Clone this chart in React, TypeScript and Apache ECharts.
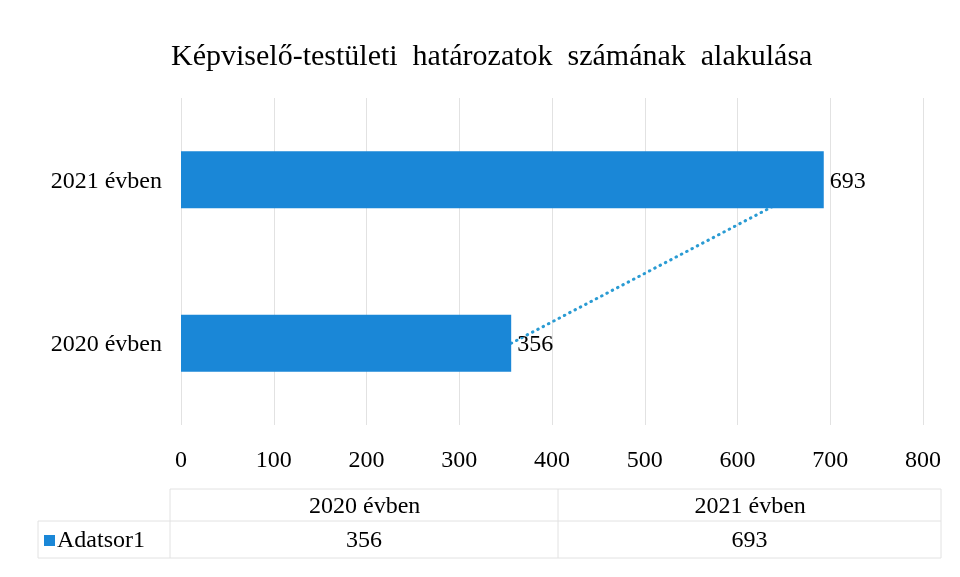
import React, { useEffect, useRef } from "react";
import * as echarts from "echarts";

const titleText = "Képviselő-testületi  határozatok  számának  alakulása";
const categories = ["2020 évben", "2021 évben"];
const seriesName = "Adatsor1";
const values = [356, 693];
const axisMin = 0;
const axisMax = 800;
const axisInterval = 100;

const FONT = "Liberation Serif";
const BAR = "#1a87d7";
const LINE = "#2a9bd3";
const GRIDC = "#e2e2e2";
const TXT = "#000";
const FS = 24;

export default function App() {
  const ref = useRef<HTMLDivElement>(null);
  useEffect(() => {
    if (!ref.current) return;
    const chart = echarts.init(ref.current, undefined, { renderer: "svg" });

    const tL = 38, tC0 = 170, tMid = 558, tR = 941;
    const tTop = 489, tRow = 521, tBot = 558;
    const colX = [tC0, tMid, tR];
    const ls = { stroke: GRIDC, lineWidth: 1 };
    const graphics: any[] = [
      { type: "line", shape: { x1: tC0, y1: tTop, x2: tR, y2: tTop }, style: ls },
      { type: "line", shape: { x1: tL, y1: tRow, x2: tR, y2: tRow }, style: ls },
      { type: "line", shape: { x1: tL, y1: tBot, x2: tR, y2: tBot }, style: ls },
      { type: "line", shape: { x1: tL, y1: tRow, x2: tL, y2: tBot }, style: ls },
      { type: "line", shape: { x1: tC0, y1: tTop, x2: tC0, y2: tBot }, style: ls },
      { type: "line", shape: { x1: tMid, y1: tTop, x2: tMid, y2: tBot }, style: ls },
      { type: "line", shape: { x1: tR, y1: tTop, x2: tR, y2: tBot }, style: ls },
      { type: "rect", shape: { x: 44, y: 535, width: 11, height: 11 }, style: { fill: BAR } },
      {
        type: "text", left: 57, top: 527,
        style: { text: seriesName, fontFamily: FONT, fontSize: FS, fill: TXT },
      },
    ];
    categories.forEach((c, i) => {
      const cx = (colX[i] + colX[i + 1]) / 2;
      graphics.push({
        type: "text", x: cx - 55, y: tTop + 4,
        style: { text: c, fontFamily: FONT, fontSize: FS, fill: TXT },
      });
      graphics.push({
        type: "text", x: cx - 18, y: tRow + 6,
        style: { text: String(values[i]), fontFamily: FONT, fontSize: FS, fill: TXT },
      });
    });

    chart.setOption({
      animation: false,
      title: {
        text: titleText,
        left: 166,
        top: 34,
        textStyle: { fontFamily: FONT, fontSize: 30, fontWeight: "normal", color: TXT },
      },
      grid: { left: 181, right: 37, top: 98, height: 327 },
      xAxis: {
        type: "value",
        min: axisMin,
        max: axisMax,
        interval: axisInterval,
        axisLine: { show: false },
        axisTick: { show: false },
        axisLabel: { fontFamily: FONT, fontSize: FS, color: TXT, margin: 22 },
        splitLine: { show: true, lineStyle: { color: GRIDC, width: 1 } },
      },
      yAxis: {
        type: "category",
        data: categories,
        axisLine: { show: false },
        axisTick: { show: false },
        axisLabel: { fontFamily: FONT, fontSize: FS, color: TXT, margin: 19 },
        splitLine: { show: false },
      },
      series: [
        {
          type: "line",
          name: "trend",
          data: values,
          z: 1,
          showSymbol: false,
          symbol: "none",
          lineStyle: { color: LINE, width: 3, type: [0.5, 5.5], cap: "round" },
          silent: true,
        },
        {
          type: "bar",
          name: seriesName,
          data: values,
          z: 2,
          barWidth: "35%",
          itemStyle: { color: BAR },
          label: {
            show: true,
            position: "right",
            distance: 6,
            fontFamily: FONT,
            fontSize: FS,
            color: TXT,
          },
        },
      ],
      graphic: graphics,
    });
    return () => chart.dispose();
  }, []);
  return (
    <div
      ref={ref}
      style={{ position: "fixed", left: 0, top: 0, width: 960, height: 577 }}
    />
  );
}
